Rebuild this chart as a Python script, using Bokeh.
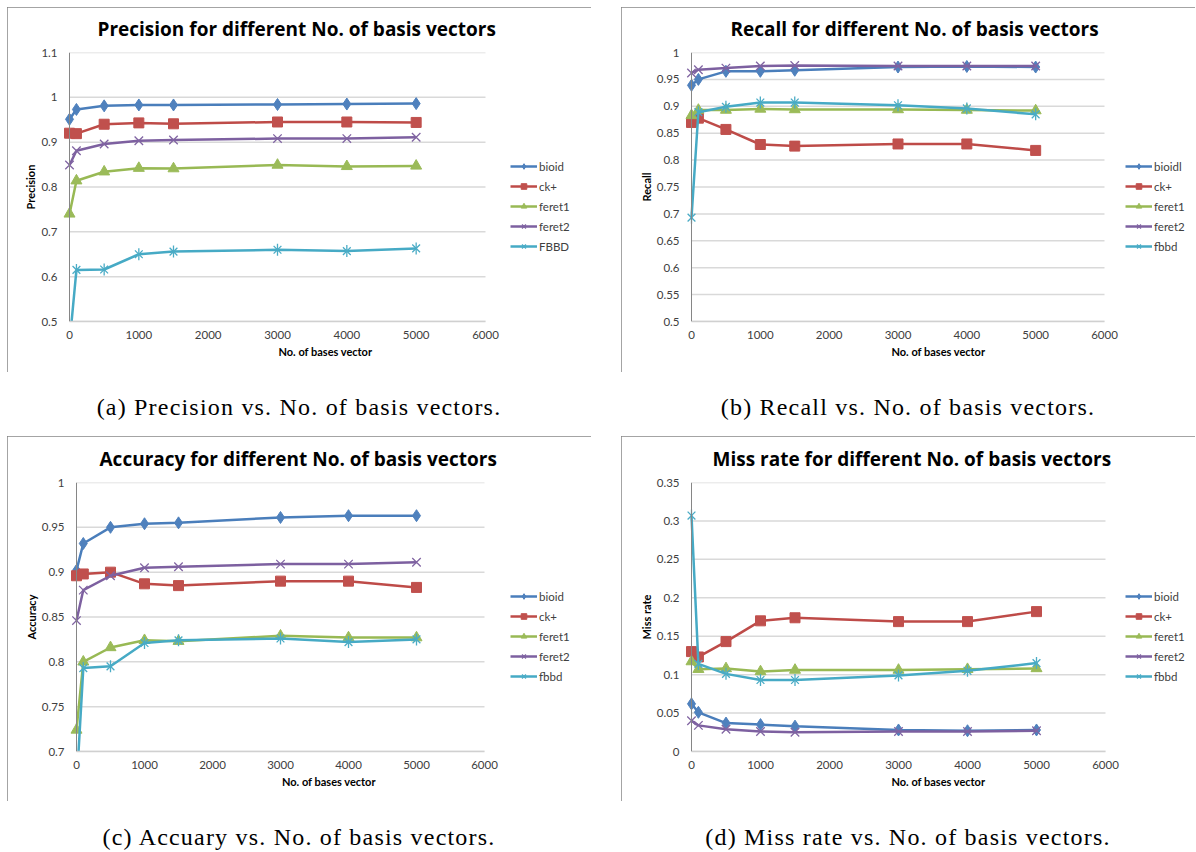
from bokeh.plotting import figure
from bokeh.models import (FixedTicker, CustomJSTickFormatter, Legend, LegendItem,
                          Range1d, Div, Spacer, Span, Title)
from bokeh.layouts import column, row
from bokeh.embed import file_html
from bokeh.resources import INLINE

# ---------------- data ----------------
n_basis = [0, 100, 500, 1000, 1500, 3000, 4000, 5000]

prec_bioid = [0.951, 0.973, 0.981, 0.983, 0.983, 0.984, 0.985, 0.986]
prec_ck = [0.920, 0.919, 0.940, 0.943, 0.941, 0.945, 0.945, 0.944]
prec_feret1 = [0.740, 0.814, 0.834, 0.842, 0.841, 0.849, 0.846, 0.847]
prec_feret2 = [0.849, 0.881, 0.896, 0.903, 0.905, 0.908, 0.908, 0.911]
prec_fbbd = [0.45, 0.615, 0.616, 0.650, 0.656, 0.660, 0.657, 0.663]

rec_bioid = [0.939, 0.950, 0.965, 0.965, 0.967, 0.973, 0.974, 0.973]
rec_ck = [0.870, 0.878, 0.857, 0.829, 0.826, 0.830, 0.830, 0.818]
rec_feret1 = [0.883, 0.893, 0.893, 0.895, 0.894, 0.894, 0.893, 0.892]
rec_feret2 = [0.962, 0.968, 0.971, 0.975, 0.976, 0.975, 0.975, 0.975]
rec_fbbd = [0.693, 0.889, 0.899, 0.907, 0.907, 0.902, 0.896, 0.885]

acc_bioid = [0.902, 0.932, 0.950, 0.954, 0.955, 0.961, 0.963, 0.963]
acc_ck = [0.896, 0.898, 0.900, 0.887, 0.885, 0.890, 0.890, 0.883]
acc_feret1 = [0.724, 0.800, 0.816, 0.824, 0.823, 0.829, 0.827, 0.827]
acc_feret2 = [0.846, 0.880, 0.896, 0.905, 0.906, 0.909, 0.909, 0.911]
acc_fbbd = [0.66, 0.793, 0.795, 0.821, 0.824, 0.826, 0.822, 0.825]

miss_bioid = [0.062, 0.051, 0.037, 0.035, 0.033, 0.028, 0.027, 0.028]
miss_ck = [0.130, 0.123, 0.143, 0.170, 0.174, 0.169, 0.169, 0.182]
miss_feret1 = [0.117, 0.107, 0.108, 0.104, 0.106, 0.106, 0.107, 0.108]
miss_feret2 = [0.040, 0.034, 0.029, 0.026, 0.025, 0.026, 0.026, 0.027]
miss_fbbd = [0.307, 0.114, 0.101, 0.093, 0.093, 0.099, 0.105, 0.115]

x_ticks = [0, 1000, 2000, 3000, 4000, 5000, 6000]
prec_ticks = [0.5, 0.6, 0.7, 0.8, 0.9, 1.0, 1.1]
rec_ticks = [0.5, 0.55, 0.6, 0.65, 0.7, 0.75, 0.8, 0.85, 0.9, 0.95, 1.0]
acc_ticks = [0.7, 0.75, 0.8, 0.85, 0.9, 0.95, 1.0]
miss_ticks = [0.0, 0.05, 0.1, 0.15, 0.2, 0.25, 0.3, 0.35]

names_a = ["bioid", "ck+", "feret1", "feret2", "FBBD"]
names_b = ["bioidl", "ck+", "feret1", "feret2", "fbbd"]
names_c = ["bioid", "ck+", "feret1", "feret2", "fbbd"]
names_d = ["bioid", "ck+", "feret1", "feret2", "fbbd"]

# ---------------- style ----------------
LINE_COLORS = ["#4A7EBB", "#BE4B48", "#98B954", "#7D60A0", "#46AAC5"]
FILL_COLORS = ["#4F81BD", "#C0504D", "#9BBB59", "#8064A2", "#4BACC6"]
FONT = "Lato"
XMAX = 6000
LEFT_PAD = 7  # px of frame left of the value axis, so x=0 markers are not cut

fmt = CustomJSTickFormatter(code="return String(Math.round(tick*1000)/1000);")


def make_panel(width, height, geom, yrange, yticks, title, title_off,
               ylabel, series, names, leg_loc):
    axis_x, x_end_px, fr, ft, fb = geom
    fl = axis_x - LEFT_PAD
    upp = XMAX / (x_end_px - axis_x)          # data units per pixel
    x_range = Range1d(-LEFT_PAD * upp, (fr - axis_x) * upp)
    p = figure(width=width, height=height, output_backend="svg",
               toolbar_location=None,
               x_range=x_range, y_range=Range1d(*yrange),
               min_border_left=fl, min_border_right=width - fr,
               min_border_top=ft, min_border_bottom=height - fb,
               styles={"outline": "1px solid #868686", "outline-offset": "-1px"})
    # thin spacer between frame and title, to lift the title
    p.add_layout(Title(text=" ", text_font_size="1px", standoff=7), "above")
    p.title.text = title
    p.title.align = "left"
    p.title.offset = title_off
    p.title.standoff = 2
    p.title.text_font = "Open Sans"
    p.title.text_font_style = "bold"
    p.title.text_font_size = "19px"
    p.title.text_color = "#000000"

    p.outline_line_color = None
    p.background_fill_color = "white"
    p.border_fill_color = "white"
    p.xgrid.grid_line_color = None
    p.ygrid.grid_line_color = None

    # horizontal gridlines, only across the value area 0..6000
    p.segment(x0=[0] * len(yticks), x1=[XMAX] * len(yticks), y0=yticks, y1=yticks,
              line_color="#d9d9d9", line_width=1.5)
    p.add_layout(Span(location=0, dimension="height", line_color="#868686",
                      line_width=1))

    p.xaxis.ticker = FixedTicker(ticks=x_ticks)
    p.yaxis.ticker = FixedTicker(ticks=yticks)
    p.xaxis.bounds = (0, XMAX)
    p.xaxis.formatter = fmt
    p.yaxis.formatter = fmt
    for ax in (p.xaxis, p.yaxis):
        ax.major_tick_out = 0
        ax.major_tick_in = 0
        ax.minor_tick_out = 0
        ax.minor_tick_in = 0
        ax.major_label_text_font = FONT
        ax.major_label_text_font_size = "11.5px"
        ax.major_label_text_color = "#404040"
        ax.axis_label_text_font = FONT
        ax.axis_label_text_font_style = "bold"
        ax.axis_label_text_font_size = "11px"
        ax.axis_label_text_color = "#000000"
    p.yaxis.axis_line_color = None
    p.xaxis.axis_line_color = "#d0d0d0"
    p.xaxis.axis_line_width = 1.5
    p.xaxis.major_label_standoff = 9
    p.yaxis.major_label_standoff = 12 - LEFT_PAD
    p.xaxis.axis_label = "No. of bases vector"
    p.xaxis.axis_label_standoff = 3
    p.yaxis.axis_label = ylabel
    p.yaxis.axis_label_standoff = 1

    markers = ["diamond", "square", "triangle", "x", "x"]
    sizes = [12, 10, 11, 12, 11]
    items = []
    for i, (ys, nm) in enumerate(zip(series, names)):
        lr = p.line(n_basis, ys, line_color=LINE_COLORS[i], line_width=2.5)
        sr = p.scatter(n_basis, ys, marker=markers[i], size=sizes[i],
                       fill_color=FILL_COLORS[i], line_color=FILL_COLORS[i],
                       line_width=1.3 if i >= 3 else 1)
        rs = [lr, sr]
        if i == 4:
            vr = p.scatter(n_basis, ys, marker="dash", angle=1.5708, size=12,
                           line_color=FILL_COLORS[i], line_width=1.3)
            rs.append(vr)
        items.append(LegendItem(label=nm, renderers=rs))

    legend = Legend(items=items, location=leg_loc,
                    label_text_font=FONT, label_text_font_size="11.5px",
                    label_text_color="#404040", glyph_width=27, glyph_height=14,
                    label_height=14, spacing=6, padding=0, margin=0,
                    label_standoff=2, border_line_color=None,
                    background_fill_alpha=0)
    p.add_layout(legend)
    return p


def caption(text, width, height, pad_top, pad_left=0):
    html = ('<div style="font-family:\'Liberation Serif\',serif;font-size:24px;'
            'letter-spacing:1.2px;line-height:26px;color:#000;text-align:center;'
            'width:%dpx;padding-top:%dpx;padding-left:%dpx;white-space:nowrap;">%s</div>'
            % (width - pad_left, pad_top, pad_left, text))
    return Div(text=html, width=width, height=height, margin=0)


pa = make_panel(584, 365, (62, 478, 581, 45, 314), (0.5, 1.1), prec_ticks,
                "Precision for different No. of basis vectors", 35, "Precision",
                [prec_bioid, prec_ck, prec_feret1, prec_feret2, prec_fbbd], names_a,
                (448, 68))
pb = make_panel(574, 365, (70, 483, 571, 45, 314), (0.5, 1.0), rec_ticks,
                "Recall for different No. of basis vectors", 46, "Recall",
                [rec_bioid, rec_ck, rec_feret1, rec_feret2, rec_fbbd], names_b,
                (441, 68))
pc = make_panel(584, 365, (69, 477, 581, 46, 315), (0.7, 1.0), acc_ticks,
                "Accuracy for different No. of basis vectors", 30, "Accuracy",
                [acc_bioid, acc_ck, acc_feret1, acc_feret2, acc_fbbd], names_c,
                (441, 68))
pd_ = make_panel(574, 365, (70, 484, 571, 46, 315), (0.0, 0.35), miss_ticks,
                 "Miss rate for different No. of basis vectors", 28, "Miss rate",
                 [miss_bioid, miss_ck, miss_feret1, miss_feret2, miss_fbbd], names_d,
                 (441, 68))

cap_a = caption("(a) Precision vs. No. of basis vectors.", 584, 64, 22)
cap_b = caption("(b) Recall vs. No. of basis vectors.", 574, 64, 22, 14)
cap_c = caption("(c) Accuary vs. No. of basis vectors.", 584, 51, 23)
cap_d = caption("(d) Miss rate vs. No. of basis vectors.", 574, 51, 23, 14)

layout = column(
    Spacer(width=1195, height=7),
    row(Spacer(width=7, height=365), pa, Spacer(width=30, height=365), pb),
    row(Spacer(width=7, height=64), cap_a, Spacer(width=30, height=64), cap_b),
    row(Spacer(width=7, height=365), pc, Spacer(width=30, height=365), pd_),
    row(Spacer(width=7, height=51), cap_c, Spacer(width=30, height=51), cap_d),
    spacing=0)
open("out.html", "w").write(file_html(layout, INLINE))
